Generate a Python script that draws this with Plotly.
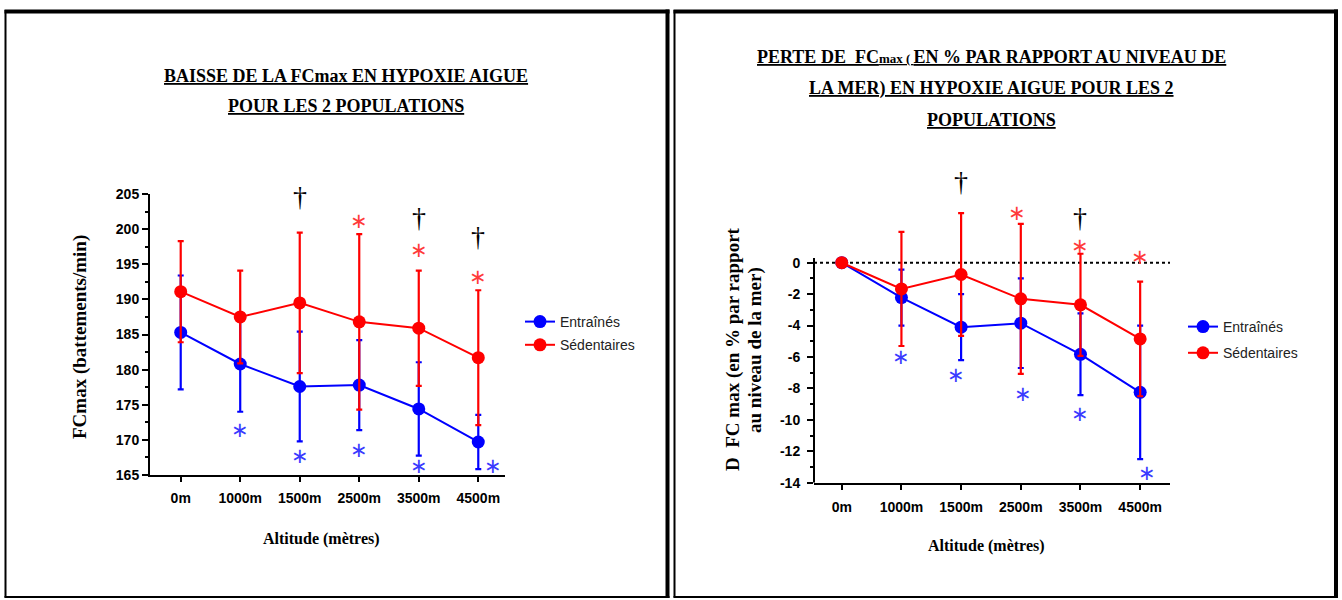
import plotly.graph_objects as go

W, H = 1342, 600


def fx(p):
    return p / W


def fy(p):
    return 1 - p / H


# ---------------- data ----------------
altitudes = ["0m", "1000m", "1500m", "2500m", "3500m", "4500m"]

fc_entraines = [185.3, 180.8, 177.6, 177.8, 174.4, 169.7]
fc_entraines_sd = [8.1, 6.8, 7.8, 6.4, 6.65, 3.85]
fc_sedentaires = [191.1, 187.5, 189.5, 186.8, 185.9, 181.7]
fc_sedentaires_sd = [7.2, 6.6, 10.0, 12.5, 8.2, 9.6]

perte_entraines = [0, -2.22, -4.1, -3.85, -5.83, -8.25]
perte_entraines_sd = [0, 1.78, 2.1, 2.85, 2.6, 4.25]
perte_sedentaires = [0, -1.67, -0.75, -2.3, -2.68, -4.85]
perte_sedentaires_sd = [0, 3.63, 3.91, 4.77, 3.25, 3.65]

# significance symbols (category, y value[, x shift px])
left_dagger = [("1500m", 204.6), ("3500m", 201.7), ("4500m", 199.0)]
left_red_star = [("2500m", 201.2), ("3500m", 197.0), ("4500m", 193.2)]
left_blue_star = [("1000m", 171.4, 0), ("1500m", 167.7, 0), ("2500m", 168.6, 0),
                  ("3500m", 166.3, 0), ("4500m", 166.3, 15)]
right_dagger = [("1500m", 5.15), ("3500m", 2.9)]
right_red_star = [("2500m", 3.14, -4), ("3500m", 1.06, 0), ("4500m", 0.34, 0)]
right_blue_star = [("1000m", -5.98, 0), ("1500m", -7.15, -5), ("2500m", -8.38, 2),
                   ("3500m", -9.65, 0), ("4500m", -13.4, 7)]

BLUE = "#0000ff"
RED = "#ff0000"
STAR_BLUE = "#3a3aff"
STAR_RED = "#ff3a3a"

fig = go.Figure()


def add_series(x, y, sd, color, name, xa, ya, legend):
    fig.add_trace(go.Scatter(
        x=x, y=y, name=name, mode="lines+markers",
        line=dict(color=color, width=2),
        marker=dict(color=color, size=13),
        error_y=dict(type="data", array=sd, visible=True, color=color,
                     thickness=2.2, width=3),
        xaxis=xa, yaxis=ya, legend=legend, legendgroup=name + legend,
        cliponaxis=False,
    ))


add_series(altitudes, fc_entraines, fc_entraines_sd, BLUE, "Entraînés", "x", "y", "legend")
add_series(altitudes, fc_sedentaires, fc_sedentaires_sd, RED, "Sédentaires", "x", "y", "legend")
add_series(altitudes, perte_entraines, perte_entraines_sd, BLUE, "Entraînés", "x2", "y2", "legend2")
add_series(altitudes, perte_sedentaires, perte_sedentaires_sd, RED, "Sédentaires", "x2", "y2", "legend2")

tickfont = dict(family="Liberation Sans", size=14, color="black", weight="bold")
axis_common = dict(showgrid=False, zeroline=False, linecolor="black", linewidth=2,
                   tickcolor="black", tickwidth=2, tickfont=tickfont,
                   fixedrange=True, automargin=False)

L_X0, L_X1 = 150, 505
L_YT, L_YB = 194, 475
R_X0, R_X1 = 814, 1170
R_YB = 482.7
R_YMAX = 5.6
R_YT = 262.7 - R_YMAX * 15.71
R_XRANGE = [-0.465, 5.5]

fig.update_layout(
    width=W, height=H, margin=dict(l=0, r=0, t=0, b=0, pad=0, autoexpand=False),
    paper_bgcolor="white", plot_bgcolor="white",
    xaxis=dict(domain=[fx(L_X0), fx(L_X1)], anchor="y", type="category",
               categoryorder="array", categoryarray=altitudes,
               range=[-0.516, 5.449], showline=True, ticks="outside", ticklen=5,
               ticklabelstandoff=4, **axis_common),
    yaxis=dict(domain=[fy(L_YB), fy(L_YT)], anchor="x", range=[165, 205],
               tick0=165, dtick=5, showline=True, ticks="outside", ticklen=6,
               minor=dict(ticks="outside", dtick=2.5, tick0=165, ticklen=3,
                          tickwidth=2, tickcolor="black"),
               **axis_common),
    xaxis2=dict(domain=[fx(R_X0), fx(R_X1)], anchor="y2", type="category",
                categoryorder="array", categoryarray=altitudes,
                range=R_XRANGE, showline=True, ticks="outside", ticklen=5,
                ticklabelstandoff=5, **axis_common),
    # inner half of the ticks that cross the right x axis
    xaxis3=dict(domain=[fx(R_X0), fx(R_X1)], anchor="y2", overlaying="x2",
                range=R_XRANGE, tickmode="array", tickvals=list(range(len(altitudes))),
                showticklabels=False, showline=False, ticks="inside", ticklen=7,
                **axis_common),
    yaxis2=dict(domain=[fy(R_YB), fy(R_YT)], anchor="x2", range=[-14, R_YMAX],
                tickmode="array", tickvals=[0, -2, -4, -6, -8, -10, -12, -14],
                ticktext=["0", "-2", "-4", "-6", "-8", "-10", "-12", "-14"],
                showline=False, ticks="outside", ticklen=6, ticklabelstandoff=4,
                minor=dict(ticks="outside", tickmode="array",
                           tickvals=[-1, -3, -5, -7, -9, -11, -13], ticklen=3,
                           tickwidth=2, tickcolor="black"),
                **axis_common),
    legend=dict(x=fx(520), y=fy(306), xanchor="left", yanchor="top",
                font=dict(family="Liberation Sans", size=14, color="#222"),
                bgcolor="rgba(0,0,0,0)", itemwidth=30, tracegroupgap=2),
    legend2=dict(x=fx(1183), y=fy(311), xanchor="left", yanchor="top",
                 font=dict(family="Liberation Sans", size=14, color="#222"),
                 bgcolor="rgba(0,0,0,0)", itemwidth=30, tracegroupgap=5),
    showlegend=True,
)

shapes = []
# panel borders
for (a, b) in [(5.5, 667.5), (674.5, 1336)]:
    shapes.append(dict(type="line", xref="paper", yref="paper", x0=fx(a), x1=fx(a),
                       y0=fy(10), y1=fy(597.5), line=dict(color="black", width=2)))
    shapes.append(dict(type="line", xref="paper", yref="paper", x0=fx(a - 1), x1=fx(b + 2),
                       y0=fy(597), y1=fy(597), line=dict(color="black", width=2)))
    shapes.append(dict(type="line", xref="paper", yref="paper", x0=fx(a - 1), x1=fx(b + 2),
                       y0=fy(11.5), y1=fy(11.5), line=dict(color="black", width=4)))
    shapes.append(dict(type="line", xref="paper", yref="paper", x0=fx(b), x1=fx(b),
                       y0=fy(9.5), y1=fy(598), line=dict(color="black", width=4)))
# right y axis line (from -14 up to just above 0)
shapes.append(dict(type="line", xref="paper", yref="y2", x0=fx(R_X0), x1=fx(R_X0),
                   y0=-14, y1=0.3, line=dict(color="black", width=2)))
# dotted zero reference line
shapes.append(dict(type="line", xref="paper", yref="y2", x0=fx(R_X0), x1=fx(R_X1),
                   y0=0, y1=0, layer="below", line=dict(color="black", width=2, dash="dot")))
fig.update_layout(shapes=shapes)

ann = []
title_font = dict(family="Liberation Serif", size=18, color="black", weight="bold",
                  lineposition="under")


def text(x, y, s, font, **kw):
    d = dict(xref="paper", yref="paper", x=fx(x), y=fy(y), text=s, showarrow=False,
             font=font, xanchor="center", yanchor="middle")
    d.update(kw)
    ann.append(d)


text(345.5, 76, "BAISSE DE LA FCmax EN HYPOXIE AIGUE", title_font)
text(345.5, 106, "POUR LES 2 POPULATIONS", title_font)
text(991, 57, "PERTE DE  FC<span style='font-size:13px'>max ( </span>EN % PAR RAPPORT AU NIVEAU DE", title_font)
text(991, 89, "LA MER) EN HYPOXIE AIGUE POUR LES 2", title_font)
text(991, 120, "POPULATIONS", title_font)

axis_title_font = dict(family="Liberation Serif", size=16, color="black", weight="bold")
text(321, 539, "Altitude (mètres)", axis_title_font)
text(986, 546, "Altitude (mètres)", axis_title_font)
ytitle_font = dict(family="Liberation Serif", size=19, color="black", weight="bold")
text(80, 337, "FCmax (battements/min)", ytitle_font, textangle=-90)
text(733, 349, "D  FC max (en % par rapport", ytitle_font, textangle=-90)
text(755, 350, "au niveau de la mer)", ytitle_font, textangle=-90)

dag_font = dict(family="Liberation Serif", size=28, color="#000")
star_font_b = dict(family="DejaVu Sans", size=21, color=STAR_BLUE)
star_font_r = dict(family="DejaVu Sans", size=21, color=STAR_RED)


def sym(xa, ya, cat, val, s, font, xshift=0):
    ann.append(dict(xref=xa, yref=ya, x=cat, y=val, text=s, showarrow=False, font=font,
                    xanchor="center", yanchor="middle", xshift=xshift))


for c, v in left_dagger:
    sym("x", "y", c, v, "†", dag_font)
for c, v in left_red_star:
    sym("x", "y", c, v, "∗", star_font_r)
for c, v, s in left_blue_star:
    sym("x", "y", c, v, "∗", star_font_b, s)
for c, v in right_dagger:
    sym("x2", "y2", c, v, "†", dag_font)
for c, v, s in right_red_star:
    sym("x2", "y2", c, v, "∗", star_font_r, s)
for c, v, s in right_blue_star:
    sym("x2", "y2", c, v, "∗", star_font_b, s)

fig.update_layout(annotations=ann)
fig.write_html("out.html")
